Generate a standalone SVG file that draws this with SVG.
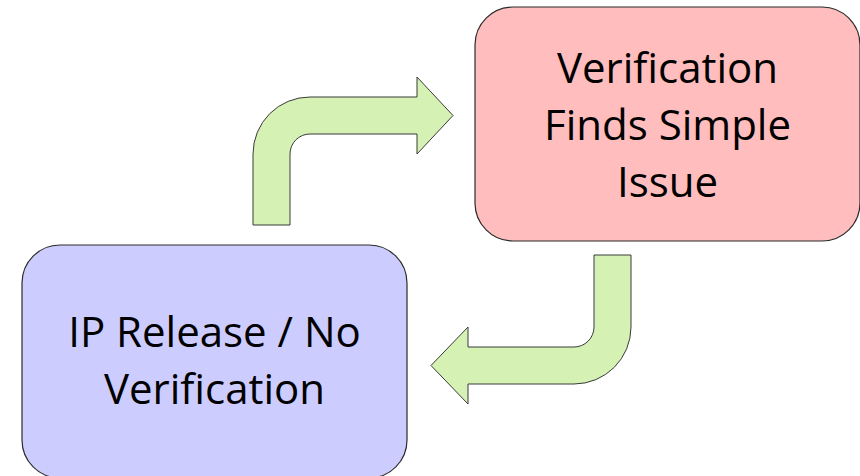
<svg xmlns="http://www.w3.org/2000/svg" width="860" height="476" viewBox="0 0 860 476">
  <style>
    .box { stroke: #2b2b2b; stroke-width: 1.2; }
    .bent { fill: #d5f2b4; stroke: #3a3a3a; stroke-width: 1; stroke-linejoin: miter; }
    .label { font-family: "Open Sans", "Liberation Sans", sans-serif; font-size: 42px; fill: #000; text-anchor: middle; }
  </style>
  <rect width="860" height="476" fill="#ffffff"/>

  <g id="connectors">
    <!-- bent arrow up and to the right -->
    <path class="bent" d="M253,225 L253,154 A57,57 0 0 1 310,97 L417,97 L417,77 L453,115.5 L417,154 L417,134 L310,134 A20,20 0 0 0 290,154 L290,225 Z"/>
    <!-- bent arrow down and to the left -->
    <path class="bent" d="M594,255 L631,255 L631,327 A57,57 0 0 1 574,384 L468,384 L468,404 L431,365.5 L468,327 L468,347 L574,347 A20,20 0 0 0 594,327 Z"/>
  </g>

  <g id="node-issue">
    <rect class="box" x="475" y="7" width="385" height="234" rx="38" ry="38" fill="#ffbdbd"/>
    <text class="label" x="667.5" y="83">Verification</text>
    <text class="label" x="667.5" y="140">Finds Simple</text>
    <text class="label" x="667.5" y="197">Issue</text>
  </g>

  <g id="node-release">
    <rect class="box" x="22" y="245" width="385" height="233" rx="38" ry="38" fill="#ccccff"/>
    <text class="label" x="214.5" y="347">IP Release / No</text>
    <text class="label" x="214.5" y="404">Verification</text>
  </g>
</svg>
